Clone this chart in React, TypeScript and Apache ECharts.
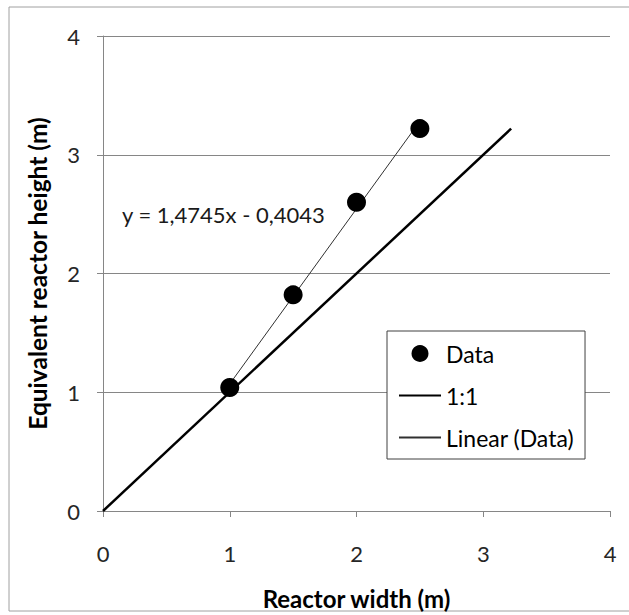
import React, { useEffect, useRef } from "react";
import * as echarts from "echarts";

// Measured data points (reactor width, equivalent reactor height)
const dataX = [1, 1.5, 2, 2.5];
const dataY = [1.04, 1.82, 2.6, 3.22];

// 1:1 reference line end points
const oneToOneX = [0, 3.22];
const oneToOneY = [0, 3.22];

// Linear trendline of the data (Excel)
const trendSlope = 1.4745;
const trendIntercept = -0.4043;
const trendX = [1, 2.5];

const axisMin = 0;
const axisMax = 4;
const axisStep = 1;

const xTitle = "Reactor width (m)";
const yTitle = "Equivalent reactor height (m)";
const equationText = "y = 1,4745x - 0,4043";
const legendNames = ["Data", "1:1", "Linear (Data)"];

const FONT = "Lato";

export default function App() {
  const ref = useRef<HTMLDivElement>(null);
  useEffect(() => {
    if (!ref.current) return;
    const chart = echarts.init(ref.current, undefined, { renderer: "svg" });
    const scatterData = dataX.map((x, i) => [x, dataY[i]]);
    const oneData = oneToOneX.map((x, i) => [x, oneToOneY[i]]);
    const trendData = trendX.map((x) => [x, trendSlope * x + trendIntercept]);
    const hiddenSymbol = { color: "rgba(0,0,0,0)", borderWidth: 0, opacity: 0 };
    chart.setOption({
      animation: false,
      backgroundColor: "#ffffff",
      textStyle: { fontFamily: FONT },
      grid: {
        left: 103,
        top: 36,
        right: 19,
        bottom: 104,
        containLabel: false,
        outerBoundsMode: "none",
      },
      xAxis: {
        type: "value",
        min: axisMin,
        max: axisMax,
        interval: axisStep,
        name: xTitle,
        nameLocation: "middle",
        nameGap: 75,
        nameTextStyle: { fontFamily: FONT, fontSize: 24, fontWeight: "bold", color: "#000" },
        axisLine: { show: true, onZero: false, lineStyle: { color: "#868686", width: 1 } },
        axisTick: { show: true, inside: false, length: 6, lineStyle: { color: "#868686" } },
        axisLabel: { fontFamily: FONT, fontSize: 22, color: "#262626", margin: 31 },
        splitLine: { show: false },
      },
      yAxis: {
        type: "value",
        min: axisMin,
        max: axisMax,
        interval: axisStep,
        name: yTitle,
        nameLocation: "middle",
        nameGap: 53,
        nameRotate: 90,
        nameTextStyle: { fontFamily: FONT, fontSize: 24.5, fontWeight: "bold", color: "#000" },
        axisLine: { show: true, onZero: false, lineStyle: { color: "#868686", width: 1 } },
        axisTick: { show: true, inside: false, length: 6, lineStyle: { color: "#868686" } },
        axisLabel: { fontFamily: FONT, fontSize: 22, color: "#262626", margin: 23 },
        splitLine: { show: true, lineStyle: { color: "#868686", width: 1 } },
      },
      legend: {
        show: true,
        orient: "vertical",
        left: 387,
        top: 331,
        data: [
          { name: legendNames[0] },
          { name: legendNames[1], itemStyle: hiddenSymbol },
          { name: legendNames[2], itemStyle: hiddenSymbol },
        ],
        itemWidth: 42,
        itemHeight: 17,
        itemGap: 19,
        padding: [11, 11, 10, 11],
        backgroundColor: "#ffffff",
        borderColor: "#404040",
        borderWidth: 1,
        borderRadius: 0,
        symbolKeepAspect: true,
        textStyle: { fontFamily: FONT, fontSize: 23, color: "#000", lineHeight: 23 },
        selectedMode: false,
      },
      graphic: [
        {
          type: "rect",
          z: -10,
          silent: true,
          shape: { x: 9, y: 7, width: 700, height: 604 },
          style: { fill: "none", stroke: "#a0a0a0", lineWidth: 1 },
        },
        {
          type: "text",
          x: 122,
          y: 214,
          silent: true,
          style: {
            text: equationText,
            fontFamily: FONT,
            fontSize: 22,
            fill: "#1a1a1a",
            verticalAlign: "middle",
            align: "left",
          },
        },
      ],
      series: [
        {
          name: legendNames[0],
          type: "scatter",
          data: scatterData,
          symbol: "circle",
          symbolSize: 19,
          itemStyle: { color: "#000000", opacity: 1 },
          z: 5,
        },
        {
          name: legendNames[1],
          type: "line",
          data: oneData,
          symbol: "none",
          lineStyle: { color: "#000000", width: 2.5 },
          itemStyle: { color: "#000000" },
          z: 3,
        },
        {
          name: legendNames[2],
          type: "line",
          data: trendData,
          symbol: "none",
          lineStyle: { color: "#303030", width: 1 },
          itemStyle: { color: "#303030" },
          z: 4,
        },
      ],
    });
    return () => chart.dispose();
  }, []);
  return (
    <div
      ref={ref}
      style={{ position: "fixed", left: 0, top: 0, width: 629, height: 615 }}
    />
  );
}
